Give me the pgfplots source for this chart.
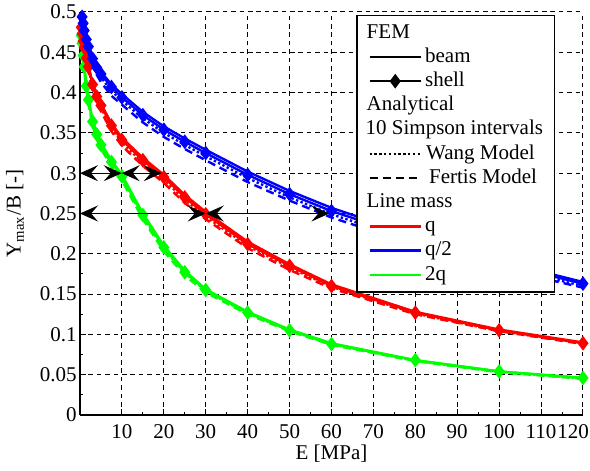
\documentclass[border=0pt]{standalone}
\usepackage{fontspec}
\setmainfont{Liberation Serif}
\usepackage{pgfplots}
\usepackage{pgfplotstable}
\pgfplotsset{compat=1.18}
\usetikzlibrary{arrows.meta}

% E [MPa], FEM beam, FEM shell, Wang, Fertis
\pgfplotstableread{
E     beam  shell wang  fertis
0.3   0.503 0.502 0.501 0.500
0.5   0.495 0.494 0.493 0.491
0.75  0.487 0.486 0.484 0.482
1     0.479 0.477 0.475 0.472
1.5   0.468 0.466 0.463 0.460
2     0.459 0.457 0.454 0.450
3     0.445 0.442 0.439 0.434
4     0.434 0.431 0.427 0.422
5     0.426 0.423 0.419 0.413
7.5   0.410 0.407 0.402 0.396
10    0.398 0.394 0.390 0.385
15    0.376 0.372 0.368 0.363
20    0.358 0.354 0.350 0.345
25    0.343 0.339 0.335 0.330
30    0.329 0.325 0.321 0.316
40    0.302 0.298 0.294 0.289
50    0.278 0.274 0.270 0.266
60    0.257 0.253 0.249 0.245
80    0.222 0.219 0.215 0.211
100   0.191 0.188 0.185 0.182
120   0.165 0.163 0.160 0.158
}\halfq

\pgfplotstableread{
E     beam  shell wang  fertis
0.3   0.482 0.481 0.480 0.479
0.5   0.474 0.473 0.472 0.470
0.75  0.465 0.464 0.462 0.460
1     0.457 0.456 0.454 0.451
1.5   0.445 0.443 0.441 0.438
2     0.434 0.432 0.430 0.426
3     0.412 0.410 0.407 0.403
4     0.397 0.395 0.392 0.388
5     0.386 0.384 0.381 0.377
7.5   0.362 0.359 0.356 0.352
10    0.344 0.341 0.338 0.334
15    0.319 0.316 0.313 0.309
20    0.298 0.295 0.292 0.288
25    0.273 0.270 0.267 0.263
30    0.252 0.249 0.246 0.243
40    0.215 0.212 0.210 0.207
50    0.187 0.185 0.183 0.180
60    0.162 0.160 0.159 0.157
80    0.128 0.127 0.126 0.125
100   0.106 0.105 0.104 0.104
120   0.090 0.089 0.089 0.088
}\oneq

\pgfplotstableread{
E     beam  shell wang  fertis
0.3   0.472 0.471 0.470 0.469
0.5   0.462 0.461 0.460 0.458
0.75  0.448 0.446 0.445 0.443
1     0.434 0.432 0.430 0.428
1.5   0.410 0.408 0.406 0.404
2     0.393 0.391 0.389 0.386
3     0.366 0.364 0.362 0.359
4     0.350 0.348 0.346 0.343
5     0.337 0.335 0.333 0.330
7.5   0.316 0.314 0.312 0.309
10    0.298 0.296 0.294 0.291
15    0.250 0.248 0.246 0.243
20    0.210 0.208 0.206 0.203
25    0.179 0.177 0.176 0.173
30    0.156 0.155 0.154 0.152
40    0.128 0.127 0.126 0.125
50    0.106 0.105 0.105 0.104
60    0.089 0.088 0.088 0.087
80    0.068 0.068 0.067 0.067
100   0.054 0.054 0.054 0.053
120   0.046 0.046 0.045 0.045
}\twoq

\newcommand\ff{\fontsize{10.5}{12.6}\selectfont}
\newcommand\txt[1]{\makebox[0pt][l]{\hspace*{-29.7pt}#1}}

\begin{document}
\ff
\begin{tikzpicture}
\begin{axis}[
  scale only axis, width=251.5pt, height=201.5pt,
  xmin=0, xmax=120, ymin=0, ymax=0.5,
  axis x line*=bottom, axis y line*=left,
  axis line style={black, line width=0.6pt},
  xtick={10,20,30,40,50,60,70,80,90,100,110,120},
  xticklabels={10,20,30,40,50,60,70,80,90,100,110,\makebox[6pt][r]{120}},
  ytick={0,0.05,0.1,0.15,0.2,0.25,0.3,0.35,0.4,0.45,0.5},
  yticklabels={0,0.05,0.1,0.15,0.2,0.25,0.3,0.35,0.4,0.45,0.5},
  minor x tick num=1, minor y tick num=1,
  tick align=inside, major tick length=3pt, minor tick length=1.5pt,
  tick style={black, line width=0.5pt},
  grid=major,
  major grid style={black, line width=0.5pt, dash pattern=on 2.3pt off 1.9pt},
  every tick label/.append style={font=\ff},
  xticklabel style={yshift=-1pt},
  yticklabel style={xshift=2pt},
  label style={font=\ff},
  xlabel={E [MPa]}, ylabel={Y\textsubscript{max}/B [-]},
  xlabel style={at={(axis description cs:0.5,-0.097)}, anchor=center},
  ylabel style={at={(axis description cs:-0.129,0.5)}, anchor=center},
  clip mode=individual,
  legend cell align=left,
  legend image code/.code={\draw[mark repeat=2,mark phase=2,#1] plot coordinates {(0pt,0pt) (12.85pt,0pt) (25.7pt,0pt)};},
  legend style={at={(0.549,0.9926)}, anchor=north west, draw=black, fill=white,
    line width=0.7pt, font=\ff, inner xsep=5.75pt, inner ysep=2.5pt,
    row sep=0pt, column sep=1.5pt,
    nodes={inner xsep=0pt, inner ysep=1.1pt, text height=7.6pt, text depth=2.3pt}},
  every axis plot/.append style={line width=1.2pt},
]
\addlegendimage{empty legend}\addlegendentry{\txt{FEM}}
\addlegendimage{black, line width=1.2pt}\addlegendentry{beam}
\addlegendimage{black, line width=1.2pt, mark=diamond*, mark size=2.7pt}\addlegendentry{shell}
\addlegendimage{empty legend}\addlegendentry{\txt{Analytical}}
\addlegendimage{empty legend}\addlegendentry{\mbox{\hspace*{-29.7pt}10 Simpson intervals}}
\addlegendimage{black, line width=1.2pt, dash pattern=on 1.2pt off 1.2pt}\addlegendentry{\hspace*{0.5pt}Wang Model}
\addlegendimage{black, line width=1.2pt, dash pattern=on 4pt off 2.5pt}\addlegendentry{\hspace*{2pt}Fertis Model}
\addlegendimage{empty legend}\addlegendentry{\txt{Line mass}}
\addlegendimage{red, line width=1.2pt}\addlegendentry{q}
\addlegendimage{blue, line width=1.2pt}\addlegendentry{q/2}
\addlegendimage{green, line width=1.2pt}\addlegendentry{2q}

% 2q
\addplot[forget plot, green, dash pattern=on 4pt off 2.5pt] table[x=E, y=fertis] {\twoq};
\addplot[forget plot, green, dash pattern=on 1.2pt off 1.2pt] table[x=E, y=wang] {\twoq};
\addplot[forget plot, green, mark=diamond*, mark size=2.7pt, mark options={solid}] table[x=E, y=shell] {\twoq};
\addplot[forget plot, green] table[x=E, y=beam] {\twoq};
% q
\addplot[forget plot, red, dash pattern=on 4pt off 2.5pt] table[x=E, y=fertis] {\oneq};
\addplot[forget plot, red, dash pattern=on 1.2pt off 1.2pt] table[x=E, y=wang] {\oneq};
\addplot[forget plot, red, mark=diamond*, mark size=2.7pt, mark options={solid}] table[x=E, y=shell] {\oneq};
\addplot[forget plot, red] table[x=E, y=beam] {\oneq};
% q/2
\addplot[forget plot, blue, dash pattern=on 4pt off 2.5pt] table[x=E, y=fertis] {\halfq};
\addplot[forget plot, blue, dash pattern=on 1.2pt off 1.2pt] table[x=E, y=wang] {\halfq};
\addplot[forget plot, blue, mark=diamond*, mark size=2.7pt, mark options={solid}] table[x=E, y=shell] {\halfq};
\addplot[forget plot, blue] table[x=E, y=beam] {\halfq};

% arrows
\addplot[forget plot, black, line width=0.5pt, {Stealth[length=9pt,width=8pt,inset=3.5pt]}-{Stealth[length=9pt,width=8pt,inset=3.5pt]}] coordinates {(0,0.3) (9.95,0.3)};
\addplot[forget plot, black, line width=0.5pt, {Stealth[length=9pt,width=8pt,inset=3.5pt]}-{Stealth[length=9pt,width=8pt,inset=3.5pt]}] coordinates {(9.95,0.3) (19.5,0.3)};
\addplot[forget plot, black, line width=0.5pt, {Stealth[length=9pt,width=8pt,inset=3.5pt]}-{Stealth[length=9pt,width=8pt,inset=3.5pt]}] coordinates {(0,0.25) (30,0.25)};
\addplot[forget plot, black, line width=0.5pt, {Stealth[length=9pt,width=8pt,inset=3.5pt]}-{Stealth[length=9pt,width=8pt,inset=3.5pt]}] coordinates {(30,0.25) (59.5,0.25)};
\end{axis}
\pgfresetboundingbox
\path ([xshift=-40pt,yshift=-28pt]current axis.south west) rectangle ([xshift=3.5pt,yshift=6pt]current axis.north east);
\end{tikzpicture}
\end{document}
